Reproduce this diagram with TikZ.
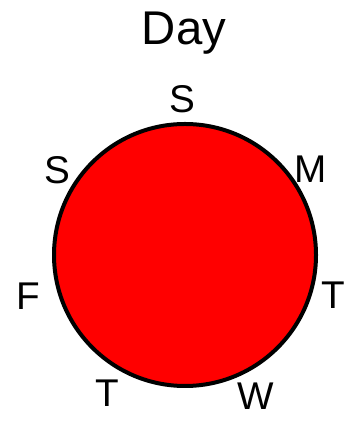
\documentclass[tikz,border=0pt]{standalone}
\usepackage{fontspec}
\setmainfont{Liberation Sans}
\usetikzlibrary{positioning}
\definecolor{DayRed}{HTML}{FF0000}
\definecolor{Ink}{HTML}{000000}

\begin{document}
\begin{tikzpicture}[x=0.75pt,y=0.75pt,
    every node/.style={font=\fontsize{29}{35}\selectfont,text=Ink,inner sep=0pt},
    daylabel/.style={anchor=base}]
    \useasboundingbox (0,0) rectangle (346,423);

    \node[font=\fontsize{35.5}{42}\selectfont,anchor=base] (title) at (184,378) {Day};

    % the week wheel
    \node[circle,draw=Ink,fill=DayRed,line width=3pt,minimum size=196.5pt] (wheel) at (185,168) {};

    \foreach \nm/\xa/\ya/\lab in {sun/182/310/S,mon/311/240/M,tue/333/114/T,wed/256/13/W,thu/107/16/T,fri/28/113/F,sat/57/239/S} {
      \node[daylabel] (\nm) at (\xa,\ya) {\lab};
    }
\end{tikzpicture}
\end{document}
